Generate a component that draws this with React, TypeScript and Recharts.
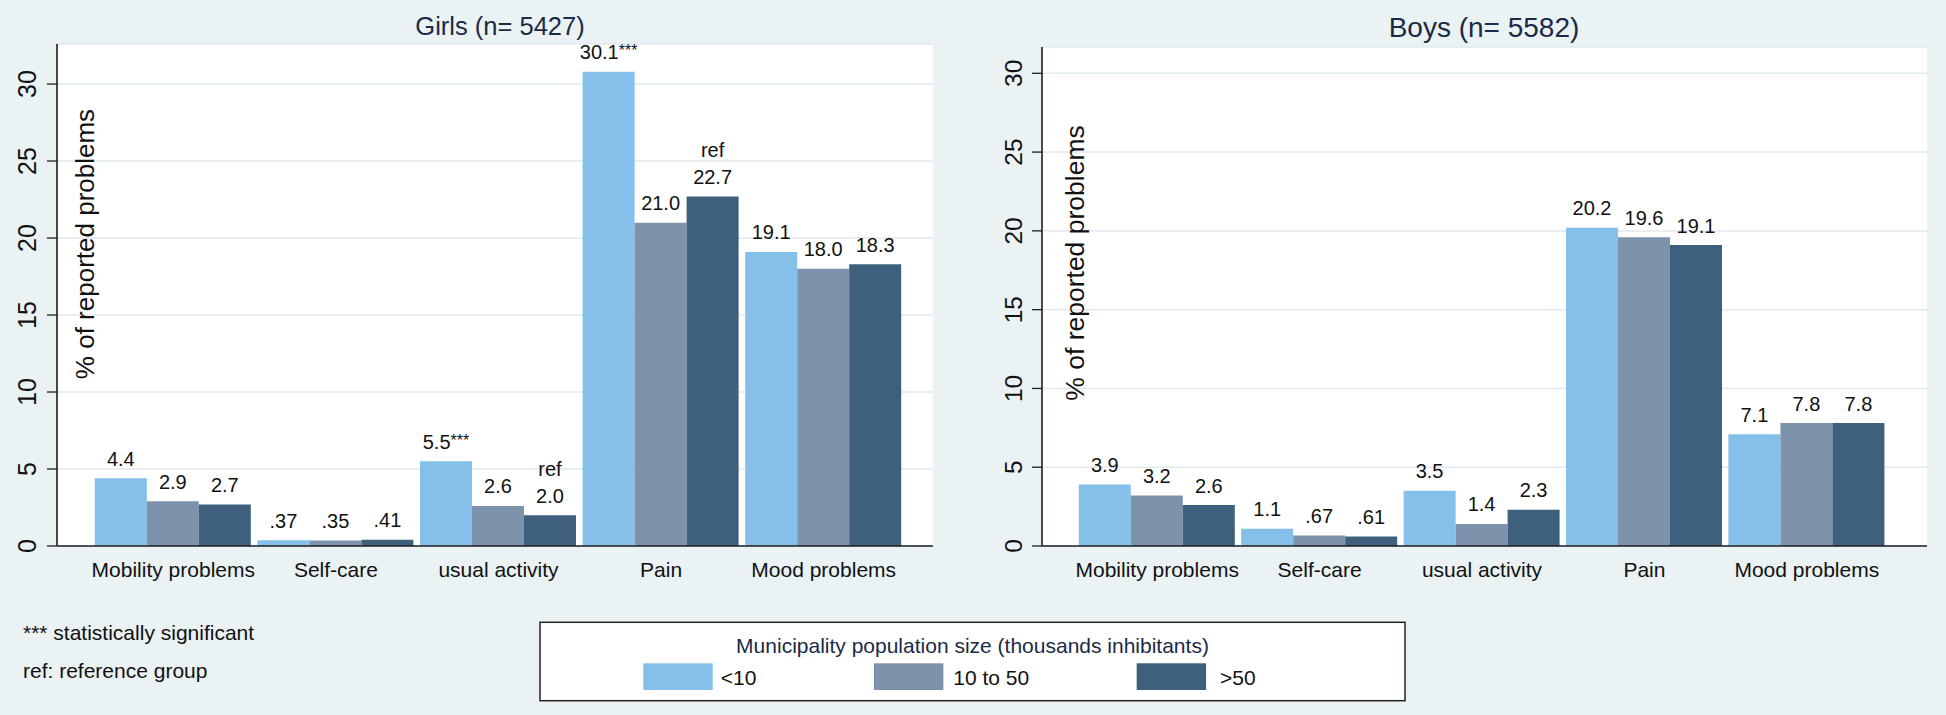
import React from 'react';
import { BarChart, Bar, XAxis, YAxis, CartesianGrid, LabelList } from 'recharts';

// ---------- data ----------
const categories = ['Mobility problems', 'Self-care', 'usual activity', 'Pain', 'Mood problems'];
const yTicks = [0, 5, 10, 15, 20, 25, 30];

const girlsUnder10 = [4.4, 0.37, 5.5, 30.8, 19.1];
const girls10to50 = [2.9, 0.35, 2.6, 21.0, 18.0];
const girlsOver50 = [2.7, 0.41, 2.0, 22.7, 18.3];
const girlsUnder10Labels = ['4.4', '.37', '5.5***', '30.1***', '19.1'];
const girls10to50Labels = ['2.9', '.35', '2.6', '21.0', '18.0'];
const girlsOver50Labels = ['2.7', '.41', 'ref\n2.0', 'ref\n22.7', '18.3'];

const boysUnder10 = [3.9, 1.1, 3.5, 20.2, 7.1];
const boys10to50 = [3.2, 0.67, 1.4, 19.6, 7.8];
const boysOver50 = [2.6, 0.61, 2.3, 19.1, 7.8];
const boysUnder10Labels = ['3.9', '1.1', '3.5', '20.2', '7.1'];
const boys10to50Labels = ['3.2', '.67', '1.4', '19.6', '7.8'];
const boysOver50Labels = ['2.6', '.61', '2.3', '19.1', '7.8'];

const seriesNames = ['<10', '10 to 50', '>50'];
const legendTitle = 'Municipality population size (thousands inhibitants)';
const girlsTitle = 'Girls (n= 5427)';
const boysTitle = 'Boys (n= 5582)';
const yTitle = '% of reported problems';
const notes = ['*** statistically significant', 'ref: reference group'];

// ---------- styles ----------
const FONT = '"Liberation Sans", Arial, Helvetica, sans-serif';
const COLORS = ['#84C0EA', '#7D93AB', '#3E607C'];
const BG = '#EAF2F3';
const GRID = '#E0E9EE';
const AXIS = '#1e1e1e';
const NAVY = '#1B2A47';

function buildRows(a: number[], b: number[], c: number[], la: string[], lb: string[], lc: string[]) {
  return categories.map((name, i) => ({
    name,
    low: a[i],
    mid: b[i],
    high: c[i],
    lowLabel: la[i],
    midLabel: lb[i],
    highLabel: lc[i],
  }));
}

const girlsRows = buildRows(girlsUnder10, girls10to50, girlsOver50, girlsUnder10Labels, girls10to50Labels, girlsOver50Labels);
const boysRows = buildRows(boysUnder10, boys10to50, boysOver50, boysUnder10Labels, boys10to50Labels, boysOver50Labels);

const ValueLabel = (props: any) => {
  const vb = props.viewBox || {};
  const x = Number(props.x ?? vb.x);
  const y = Number(props.y ?? vb.y);
  const w = Number(props.width ?? vb.width);
  const cx = x + w / 2;
  const base = y - 12.5;
  const lines = String(props.value ?? '').split('\n');
  const main = lines[lines.length - 1];
  const m = main.match(/^(.*?)(\*+)$/);
  const numText = m ? m[1] : main;
  const stars = m ? m[2] : '';
  return (
    <g>
      {lines.length > 1 && (
        <text x={cx} y={base - 27} textAnchor="middle" fontSize={20} fill="#111" fontFamily={FONT}>
          {lines[0]}
        </text>
      )}
      <text x={cx} y={base} textAnchor="middle" fontSize={20} fill="#111" fontFamily={FONT}>
        {numText}
        {stars && (
          <tspan fontSize={16} dy={-3}>
            {stars}
          </tspan>
        )}
      </text>
    </g>
  );
};

const CatTick = (props: any) => {
  const { x, y, payload } = props;
  return (
    <text x={x} y={y} dy={31} textAnchor="middle" fontSize={21} fill="#111" fontFamily={FONT}>
      {payload.value}
    </text>
  );
};

const makeYTick = (size: number) => (props: any) => {
  const { x, y, payload } = props;
  return (
    <text
      x={x}
      y={y}
      transform={`rotate(-90 ${x} ${y})`}
      textAnchor="middle"
      fontSize={size}
      fill="#111"
      fontFamily={FONT}
    >
      {payload.value}
    </text>
  );
};

type PanelProps = {
  rows: any[];
  yMax: number;
  width: number;
  height: number;
  margin: { top: number; right: number; bottom: number; left: number };
  yAxisWidth: number;
  xPadding: { left: number; right: number };
  tickGap: number;
  tickFont: number;
};

function Panel({ rows, yMax, width, height, margin, yAxisWidth, xPadding, tickGap, tickFont }: PanelProps) {
  const keys = ['low', 'mid', 'high'];
  return (
    <BarChart width={width} height={height} data={rows} margin={margin} barCategoryGap={2.8} barGap={0}>
      <CartesianGrid vertical={false} stroke={GRID} strokeWidth={1.5} fill="#ffffff" />
      <XAxis
        dataKey="name"
        interval={0}
        tickLine={false}
        tickSize={0}
        tickMargin={0}
        height={40}
        padding={xPadding}
        axisLine={{ stroke: AXIS, strokeWidth: 1.6 }}
        tick={(p: any) => <CatTick {...p} />}
      />
      <YAxis
        type="number"
        domain={[0, yMax]}
        ticks={yTicks}
        allowDataOverflow
        width={yAxisWidth}
        tickSize={10}
        tickMargin={tickGap}
        axisLine={{ stroke: AXIS, strokeWidth: 1.6 }}
        tickLine={{ stroke: AXIS, strokeWidth: 1.3 }}
        tick={makeYTick(tickFont)}
      />
      {keys.map((k, i) => (
        <Bar key={k} dataKey={k} fill={COLORS[i]} isAnimationActive={false}>
          <LabelList dataKey={`${k}Label`} content={ValueLabel} />
        </Bar>
      ))}
    </BarChart>
  );
}

export default function App() {
  return (
    <div
      style={{
        position: 'relative',
        width: 1946,
        height: 715,
        background: BG,
        fontFamily: FONT,
        overflow: 'hidden',
      }}
    >
      <style>{`body{margin:0;}`}</style>
      <div style={{ position: 'absolute', left: 0, top: 0 }}>
        <Panel
          rows={girlsRows}
          yMax={32.6}
          width={960}
          height={600}
          margin={{ top: 44, right: 27, bottom: 14, left: 0 }}
          yAxisWidth={57}
          xPadding={{ left: 35, right: 28 }}
          tickGap={11.3}
          tickFont={25}
        />
      </div>
      <div style={{ position: 'absolute', left: 960, top: 0 }}>
        <Panel
          rows={boysRows}
          yMax={31.67}
          width={986}
          height={600}
          margin={{ top: 47, right: 19, bottom: 14, left: 0 }}
          yAxisWidth={82}
          xPadding={{ left: 34, right: 39 }}
          tickGap={10}
          tickFont={24.5}
        />
      </div>
      <svg
        width={1946}
        height={715}
        style={{ position: 'absolute', left: 0, top: 0, pointerEvents: 'none' }}
        fontFamily={FONT}
      >
        <text x={500} y={34.5} textAnchor="middle" fontSize={25.5} fill={NAVY}>
          {girlsTitle}
        </text>
        <text x={1484} y={37.3} textAnchor="middle" fontSize={28} fill={NAVY}>
          {boysTitle}
        </text>
        <text x={94} y={244} transform="rotate(-90 94 244)" textAnchor="middle" fontSize={26} fill="#111">
          {yTitle}
        </text>
        <text x={1083.5} y={263} transform="rotate(-90 1083.5 263)" textAnchor="middle" fontSize={26.5} fill="#111">
          {yTitle}
        </text>
        <text x={23} y={640} fontSize={21} fill="#111">
          {notes[0]}
        </text>
        <text x={23} y={678.3} fontSize={21} fill="#111">
          {notes[1]}
        </text>
        <rect x={540} y={622.3} width={865} height={78.4} fill="#ffffff" stroke="#222" strokeWidth={1.5} />
        <text x={972.5} y={652.7} textAnchor="middle" fontSize={21} fill={NAVY}>
          {legendTitle}
        </text>
        {seriesNames.map((s, i) => {
          const sx = [643.3, 874, 1136.7][i];
          const lx = [720.7, 953.3, 1220][i];
          return (
            <g key={s}>
              <rect x={sx} y={663.3} width={69.4} height={26.7} fill={COLORS[i]} />
              <text x={lx} y={685.3} fontSize={21} fill="#111">
                {s}
              </text>
            </g>
          );
        })}
      </svg>
    </div>
  );
}
